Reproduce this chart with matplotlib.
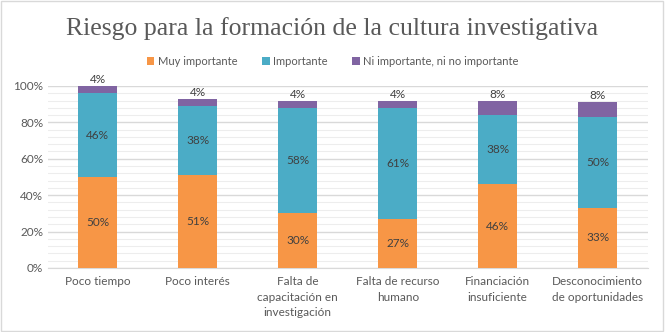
import matplotlib.pyplot as plt
from matplotlib.patches import Rectangle
import numpy as np

categories = ["Poco tiempo", "Poco interés", "Falta de\ncapacitación en\ninvestigación",
              "Falta de recurso\nhumano", "Financiación\ninsuficiente",
              "Desconocimiento\nde oportunidades"]
muy_importante = [50, 51, 30, 27, 46, 33]
importante = [46, 38, 58, 61, 38, 50]
ni_importante = [4, 4, 4, 4, 8, 8]
series_names = ["Muy importante", "Importante", "Ni importante, ni no importante"]
colors = ["#F79646", "#4BACC6", "#8064A2"]
text_color = "#595959"

plt.rcParams['font.family'] = ['Lato', 'DejaVu Sans']

fig = plt.figure(figsize=(6.65, 3.32), dpi=100)
fig.patches.append(Rectangle((0.002, 0.003), 0.995, 0.993, transform=fig.transFigure,
                             fill=False, edgecolor="#D9D9D9", linewidth=1))
ax = fig.add_axes([0.072, 0.193, 0.902, 0.548])

x = np.arange(len(categories))
w = 0.39
b1 = np.array(muy_importante)
b2 = b1 + np.array(importante)
ax.bar(x, muy_importante, w, color=colors[0], label=series_names[0], zorder=3)
ax.bar(x, importante, w, bottom=b1, color=colors[1], label=series_names[1], zorder=3)
ax.bar(x, ni_importante, w, bottom=b2, color=colors[2], label=series_names[2], zorder=3)

for i in range(len(categories)):
    ax.text(x[i], muy_importante[i] / 2, f"{muy_importante[i]}%", ha="center", va="center",
            fontsize=8.5, color="#404040", zorder=4)
    ax.text(x[i], b1[i] + importante[i] / 2, f"{importante[i]}%", ha="center", va="center",
            fontsize=8.5, color="#404040", zorder=4)
    ax.text(x[i], b2[i] + ni_importante[i] + 0.5, f"{ni_importante[i]}%", ha="center", va="bottom",
            fontsize=8.5, color="#404040", zorder=4)

ax.set_xlim(-0.5, len(categories) - 0.5)
ax.set_ylim(0, 100)
ax.set_yticks(np.arange(0, 101, 20))
ax.set_yticklabels([f"{v}%" for v in range(0, 101, 20)])
ax.set_yticks(np.arange(0, 101, 4), minor=True)
ax.grid(axis="y", which="major", color="#D9D9D9", linewidth=1, zorder=0)
ax.grid(axis="y", which="minor", color="#EDEDED", linewidth=0.8, zorder=0)
ax.set_xticks(x)
ax.set_xticklabels(categories, fontsize=8.5, color=text_color, linespacing=1.5)
ax.tick_params(axis="y", labelsize=8.5, labelcolor=text_color, length=0, which="both")
ax.tick_params(axis="x", length=0, pad=6)
for s in ["top", "right", "left"]:
    ax.spines[s].set_visible(False)
ax.spines["bottom"].set_color("#D9D9D9")

fig.text(0.5, 0.915, "Riesgo para la formación de la cultura investigativa", ha="center", va="center",
         fontsize=18.5, color=text_color, family=["Liberation Serif", "DejaVu Serif"])
fig.legend(loc="center", bbox_to_anchor=(0.5, 0.815), ncol=3, frameon=False, fontsize=8,
           handlelength=0.7, handleheight=0.7, handletextpad=0.3, columnspacing=2.2,
           labelcolor=text_color)

fig.savefig("out.png", dpi=100)
